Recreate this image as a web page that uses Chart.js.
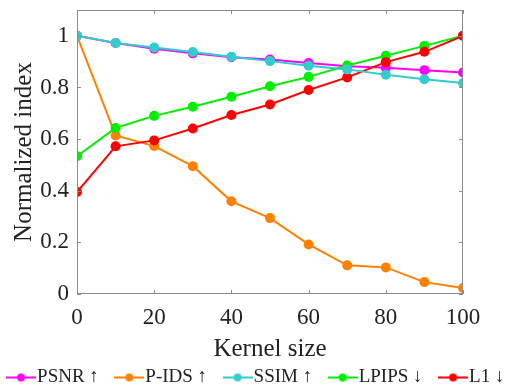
<!DOCTYPE html>
<html><head><meta charset="utf-8">
<script src="https://cdn.jsdelivr.net/npm/chart.js@4/dist/chart.umd.min.js"></script>
<style>html,body{margin:0;padding:0;background:#fff}#wrap{width:509px;height:387px}</style>
</head><body><div id="wrap"><canvas id="c" width="509" height="387"></canvas></div>
<script>
const kernelSizes = [0,10,20,30,40,50,60,70,80,90,100];
const psnr  = [1,0.972,0.950,0.932,0.917,0.908,0.895,0.882,0.876,0.867,0.858];
const pids  = [1,0.614,0.573,0.495,0.359,0.294,0.192,0.111,0.103,0.046,0.023];
const ssim  = [1,0.972,0.955,0.937,0.919,0.902,0.884,0.870,0.849,0.832,0.817];
const lpips = [0.534,0.643,0.690,0.725,0.764,0.805,0.841,0.885,0.923,0.961,1];
const l1    = [0.395,0.572,0.595,0.641,0.693,0.734,0.790,0.839,0.898,0.938,1];
const seriesNames = ['PSNR \u2191','P-IDS \u2191','SSIM \u2191','LPIPS \u2193','L1 \u2193'];
const seriesColors = ['#ff00ff','#ff8000','#33cccc','#00ee00','#ff0000'];
const yTicks = [0,0.2,0.4,0.6,0.8,1];
const xTicks = [0,20,40,60,80,100];
const allData = [psnr,pids,ssim,lpips,l1];

function legendIcon(color){
  const c=document.createElement('canvas');c.width=30;c.height=10;
  const g=c.getContext('2d');
  g.strokeStyle=color;g.lineWidth=2;g.beginPath();g.moveTo(0,5);g.lineTo(30,5);g.stroke();
  g.fillStyle=color;g.beginPath();g.arc(15,5,4,0,Math.PI*2);g.fill();
  return c;
}

const datasets = allData.map((d,i)=>({
  label: seriesNames[i],
  data: d.map((v,j)=>({x:kernelSizes[j],y:v})),
  borderColor: seriesColors[i], backgroundColor: seriesColors[i],
  borderWidth: 2, pointRadius: 5, pointHoverRadius: 5,
  pointStyle: 'circle', pointBorderWidth:0,
  order: [5,4,1,3,2][i]
}));

const boxTicks = {
  id:'boxTicks',
  afterDraw(ch){
    const g=ch.ctx, a=ch.chartArea, xs=ch.scales.x, ys=ch.scales.y, L=4;
    g.save();g.strokeStyle='#8c8c8c';g.lineWidth=1;
    g.strokeRect(a.left+0.5,a.top+0.5,a.right-a.left-1,a.bottom-a.top-1);
    g.beginPath();
    xTicks.forEach(v=>{const p=Math.round(xs.getPixelForValue(v))+0.5;
      g.moveTo(p,a.bottom);g.lineTo(p,a.bottom-L);g.moveTo(p,a.top);g.lineTo(p,a.top+L);});
    yTicks.forEach(v=>{const p=Math.round(ys.getPixelForValue(v))+0.5;
      g.moveTo(a.left,p);g.lineTo(a.left+L,p);g.moveTo(a.right,p);g.lineTo(a.right-L,p);});
    g.stroke();g.restore();
  }
};

new Chart(document.getElementById('c'),{
  type:'line',
  data:{datasets},
  options:{
    responsive:false, animation:false,
    layout:{padding:{left:-25,right:-35,top:0,bottom:-10}},
    plugins:{
      legend:{position:'bottom',
        labels:{usePointStyle:true,pointStyleWidth:13,color:'#222',font:{family:'Liberation Serif',size:19},padding:24,boxHeight:10,
          generateLabels(ch){return ch.data.datasets.map((ds,i)=>({text:ds.label,fillStyle:ds.borderColor,strokeStyle:ds.borderColor,
            pointStyle:legendIcon(ds.borderColor),lineWidth:0,datasetIndex:i,hidden:false,fontColor:'#222'}));}
        }},
      tooltip:{enabled:false}
    },
    scales:{
      x:{type:'linear',min:0,max:100,
        afterBuildTicks(s){s.ticks=xTicks.map(v=>({value:v}));},
        afterFit(s){s.height=50;s.paddingRight=46;s.paddingLeft=0;},
        grid:{drawOnChartArea:false,drawTicks:false},border:{display:false},
        ticks:{color:'#222',font:{family:'Liberation Serif',size:23},padding:10,maxRotation:0},
        title:{display:true,text:'Kernel size',color:'#222',font:{family:'Liberation Serif',size:25,lineHeight:1},padding:{top:0,bottom:-18}}
      },
      y:{type:'linear',min:0,max:1.1,
        afterBuildTicks(s){s.ticks=yTicks.map(v=>({value:v}));},
        afterFit(s){s.width=102;s.paddingTop=10;s.paddingBottom=0;},
        grid:{drawOnChartArea:false,drawTicks:false},border:{display:false},
        ticks:{color:'#222',font:{family:'Liberation Serif',size:23},padding:8,callback:v=>String(v)},
        title:{display:true,text:'Normalized index',color:'#222',font:{family:'Liberation Serif',size:25,lineHeight:1.2},padding:{top:34,bottom:0}}
      }
    }
  },
  plugins:[boxTicks]
});
</script></body></html>
